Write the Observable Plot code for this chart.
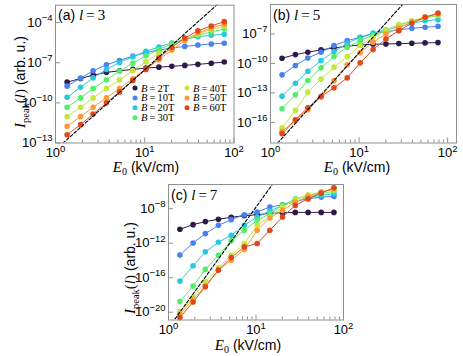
<!DOCTYPE html>
<html><head><meta charset="utf-8">
<script src="https://cdn.jsdelivr.net/npm/d3@7"></script>
<script src="https://cdn.jsdelivr.net/npm/@observablehq/plot@0.6"></script>
<style>
body{margin:0;background:#fff;}
#wrap{position:relative;width:463px;height:356px;overflow:hidden;background:#fff;}
#wrap svg{position:absolute;left:0;top:0;}
</style></head><body><div id="wrap"></div>
<script>
// ---- data ----
const fields = ["2T","10T","20T","30T","40T","50T","60T"];
const colors = ["#2d1a4a","#4a80f0","#28c8e0","#52ee6a","#c5e63a","#fd9a38","#e0481c"];
const E0 = [1.35,1.91,2.64,3.72,5.21,7.35,10.3,14.4,20.1,28.1,39.4,55.6,77.8];
// log10 of I_peak, one row per field (2T..60T)
const logA = [
  [-8.45,-8.18,-7.93,-7.72,-7.60,-7.50,-7.40,-7.33,-7.27,-7.20,-7.12,-7.04,-6.95],
  [-8.75,-8.15,-7.60,-7.15,-6.83,-6.50,-6.25,-6.05,-5.90,-5.78,-5.68,-5.60,-5.54],
  [-9.58,-8.83,-8.13,-7.50,-6.98,-6.55,-6.15,-5.82,-5.52,-5.25,-5.05,-4.95,-4.87],
  [-10.33,-9.63,-8.93,-8.28,-7.63,-7.03,-6.48,-6.00,-5.60,-5.25,-4.95,-4.70,-4.47],
  [-11.03,-10.33,-9.63,-8.93,-8.28,-7.58,-6.93,-6.30,-5.75,-5.25,-4.85,-4.52,-4.27],
  [-11.75,-11.03,-10.33,-9.63,-8.93,-8.20,-7.48,-6.78,-6.05,-5.35,-4.78,-4.40,-4.12],
  [-12.38,-11.63,-10.83,-10.00,-9.18,-8.33,-7.50,-6.65,-5.85,-5.15,-4.62,-4.25,-3.93]
];
const logB = [
  [-9.47,-9.10,-8.86,-8.62,-8.42,-8.25,-8.12,-8.05,-8.02,-7.98,-7.95,-7.91,-7.88],
  [-11.16,-10.21,-9.44,-8.86,-8.18,-7.68,-7.34,-7.00,-6.76,-6.59,-6.42,-6.32,-6.22],
  [-13.33,-12.01,-10.79,-9.71,-8.79,-7.95,-7.34,-6.90,-6.59,-6.26,-5.92,-5.65,-5.55],
  [-14.61,-13.19,-11.74,-10.45,-9.30,-8.35,-7.68,-7.10,-6.59,-6.09,-5.71,-5.38,-5.14],
  [-16.54,-14.78,-12.92,-11.60,-10.38,-9.30,-8.18,-7.34,-6.66,-6.05,-5.65,-5.31,-5.07],
  [-16.92,-15.80,-14.72,-13.40,-11.75,-10.15,-8.90,-7.85,-7.00,-6.39,-5.75,-5.24,-4.97],
  [-17.15,-15.73,-14.51,-13.36,-12.48,-11.47,-9.94,-8.59,-7.51,-6.66,-5.92,-5.31,-4.87]
];
const logC = [
  [-10.39,-9.85,-9.50,-9.23,-9.00,-8.81,-8.70,-8.54,-8.47,-8.43,-8.43,-8.43,-8.43],
  [-13.38,-11.97,-10.89,-9.93,-9.27,-8.70,-8.39,-7.81,-7.55,-7.15,-6.85,-6.66,-6.58],
  [-16.39,-14.62,-13.00,-11.89,-11.08,-9.93,-8.97,-8.27,-7.62,-7.16,-6.74,-6.46,-6.27],
  [-18.77,-16.97,-15.04,-13.39,-11.73,-10.50,-9.35,-8.58,-7.62,-6.85,-6.54,-6.27,-5.97],
  [-19.93,-18.27,-16.46,-14.81,-13.39,-12.04,-9.93,-8.97,-7.81,-6.97,-6.39,-6.08,-5.81],
  [-20.20,-18.50,-16.96,-15.12,-13.97,-12.73,-10.50,-9.08,-8.20,-7.23,-6.58,-6.08,-5.70],
  [-20.62,-18.81,-17.04,-15.12,-13.66,-12.43,-12.04,-10.50,-8.97,-7.62,-6.85,-6.20,-5.58]
];
// dashed power-law guide lines (endpoints)
const dashE = [[1.1,70],[1.1,35],[1.1,17]];
const dashLogI = [[-13.27,-2.45],[-18.50,-3.47],[-21.24,-4.59]];
const yTicksA = [1e-13,1e-10,1e-7,1e-4];
const yTicksB = [1e-16,1e-13,1e-10,1e-7];
const yTicksC = [1e-20,1e-16,1e-12,1e-8];
const xMajor = [1,10,100];
const panelLetters = ["(a)","(b)","(c)"];
const panelL = ["3","5","7"];

// ---- drawing ----
const W = 463, H = 356, gray = "#8f8f8f";
const SANS = "Liberation Sans, Arial, sans-serif", SERIF = "Liberation Serif, Times New Roman, serif";
const wrap = document.getElementById("wrap");

function rows(logs){
  return fields.flatMap((b,j)=>E0.map((e,i)=>({E:e, I:Math.pow(10,logs[j][i]), B:b})));
}

function panel(o){
  const fw = o.right-o.left, fh = o.bottom-o.top;
  const data = rows(o.logs);
  const dash = o.dashE.map((e,i)=>({E:e, I:Math.pow(10,o.dashLogI[i])}));
  const xt = d3.scaleLog().domain([1,100]).ticks().filter(v=>!xMajor.includes(v));
  const svg = Plot.plot({
    width: W, height: H,
    marginLeft: o.left, marginRight: W-o.right, marginTop: o.top, marginBottom: H-o.bottom,
    x: {type:"log", domain:o.xDomain},
    y: {type:"log", domain:o.yDomain},
    color: {domain: fields, range: colors},
    style: {fontFamily:SANS, fontSize:"13px", color:"#000", background:"transparent", overflow:"visible"},
    marks: [
      Plot.ruleX(xt, {stroke:gray, insetTop: fh-3}),
      Plot.ruleX(xMajor, {stroke:gray, insetTop: fh-5}),
      Plot.ruleY(o.yTicks, {stroke:gray, insetRight: fw-5}),
      Plot.line(data, {x:"E", y:"I", z:"B", stroke:"B", strokeWidth:1}),
      Plot.dot(data, {x:"E", y:"I", fill:"B", r:2.8}),
      Plot.line(dash, {x:"E", y:"I", stroke:"#000", strokeWidth:1.1, strokeDasharray:"3,2", clip:true}),
      Plot.frame({stroke:gray}),
      Plot.axisX({ticks:xMajor, tickSize:0, tickPadding:5, label:null, tickFormat:d=>"10^"+Math.round(Math.log10(d))}),
      Plot.axisY({ticks:o.yTicks, tickSize:0, tickPadding:3, label:null, tickFormat:d=>"10^"+Math.round(Math.log10(d))})
    ]
  });
  const s = d3.select(svg);
  s.selectAll('g[aria-label="x-axis tick label"] text, g[aria-label="y-axis tick label"] text').each(function(){
    const parts = this.textContent.split("^");
    const t = d3.select(this); t.text(null);
    t.append("tspan").text(parts[0]);
    t.append("tspan").attr("dy","-0.6em").attr("font-size","9.5px").text(parts[1].replace("-","\u2212"));
  });
  // panel label
  const pl = s.append("text").attr("x",o.left+3).attr("y",o.top+15.5).attr("text-anchor","start").attr("font-size",14).attr("font-family",SANS);
  pl.append("tspan").text(o.letter+" ");
  pl.append("tspan").attr("font-family",SERIF).attr("font-style","italic").attr("font-size",15).text("l");
  pl.append("tspan").attr("font-family",SERIF).attr("font-size",15).text("\u2009=\u2009"+o.lval);
  // x title
  const xt2 = s.append("text").attr("x",o.xTitleX).attr("y",o.xTitleY).attr("text-anchor","middle").attr("font-size",14).attr("font-family",SANS);
  xt2.append("tspan").attr("font-family",SERIF).attr("font-style","italic").attr("font-size",15).text("E");
  xt2.append("tspan").attr("font-family",SERIF).attr("font-size",10).attr("dy",3).text("0");
  xt2.append("tspan").attr("dy",-3).text(" (kV/cm)");
  // y title
  if (o.yTitle) {
    const yt = s.append("text").attr("transform",`translate(${o.yTitle[0]},${o.yTitle[1]}) rotate(-90)`).attr("text-anchor","middle").attr("font-size",14).attr("font-family",SANS);
    yt.append("tspan").attr("font-family",SERIF).attr("font-style","italic").attr("font-size",15).text("I");
    yt.append("tspan").attr("font-family",SERIF).attr("font-size",10.5).attr("dy",3.5).text("peak");
    yt.append("tspan").attr("font-family",SERIF).attr("font-size",15).attr("dy",-3.5).text("(");
    yt.append("tspan").attr("font-family",SERIF).attr("font-style","italic").attr("font-size",15).text("l");
    yt.append("tspan").attr("font-family",SERIF).attr("font-size",15).text(")");
    yt.append("tspan").text(" (arb. u.)");
  }
  if (o.legend) {
    const cols = [[0,1,2,3],[4,5,6]];
    cols.forEach((c,ci)=>c.forEach((j,ri)=>{
      const x = 135 + ci*52, y = 88 + ri*9.9;
      s.append("circle").attr("cx",x).attr("cy",y).attr("r",2.5).attr("fill",colors[j]);
      const t = s.append("text").attr("x",x+6).attr("y",y+3.5).attr("text-anchor","start").attr("font-size",10.5).attr("font-family",SERIF);
      t.append("tspan").attr("font-style","italic").text("B");
      t.append("tspan").text("\u2009=\u2009"+fields[j]);
    }));
  }
  wrap.appendChild(svg);
}

panel({logs:logA, left:55, right:233.5, top:4.7, bottom:142.5, xDomain:[1,100], yDomain:[1e-13, Math.pow(10,-2.7)],
  yTicks:yTicksA, dashE:dashE[0], dashLogI:dashLogI[0], letter:panelLetters[0], lval:panelL[0],
  xTitleX:146, xTitleY:172, yTitle:[25,82], legend:true});
panel({logs:logB, left:270, right:456, top:4, bottom:142.5, xDomain:[1, Math.pow(10,2.1)], yDomain:[Math.pow(10,-18.1), 1e-4],
  yTicks:yTicksB, dashE:dashE[1], dashLogI:dashLogI[1], letter:panelLetters[1], lval:panelL[1],
  xTitleX:357, xTitleY:172, yTitle:null, legend:false});
panel({logs:logC, left:168, right:343, top:184, bottom:319.5, xDomain:[1,100], yDomain:[Math.pow(10,-20.9), Math.pow(10,-5.2)],
  yTicks:yTicksC, dashE:dashE[2], dashLogI:dashLogI[2], letter:panelLetters[2], lval:panelL[2],
  xTitleX:248, xTitleY:350, yTitle:[135,268], legend:false});
</script>
</body></html>
